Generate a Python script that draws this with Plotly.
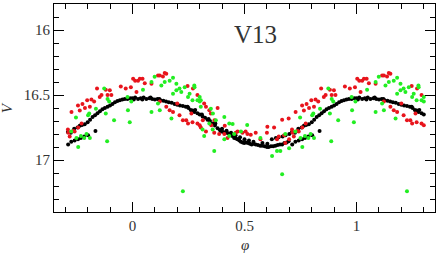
import plotly.graph_objects as go

# ---- data: phase (0..1) and V magnitude ----
black_phase = [0.000, 0.006, 0.012, 0.025, 0.037, 0.044, 0.050, 0.062, 0.075, 0.081, 0.088, 0.100, 0.112, 0.120,
               0.125, 0.138, 0.150, 0.162, 0.175, 0.188, 0.200, 0.212, 0.225, 0.238, 0.246, 0.250, 0.260,
               0.268, 0.276, 0.280, 0.290, 0.300, 0.310, 0.313, 0.324, 0.335, 0.340, 0.346, 0.358, 0.368, 0.370,
               0.380, 0.390, 0.395, 0.400, 0.405, 0.415, 0.420, 0.426, 0.437, 0.440, 0.446, 0.454, 0.460, 0.462,
               0.469, 0.477, 0.480, 0.484, 0.492, 0.499, 0.500, 0.508, 0.516, 0.520, 0.524, 0.532, 0.540, 0.541,
               0.550, 0.560, 0.570, 0.579, 0.580, 0.590, 0.600, 0.602, 0.608, 0.618, 0.622, 0.628, 0.638, 0.640,
               0.648, 0.652, 0.658, 0.668, 0.670, 0.678, 0.683, 0.688, 0.697, 0.700, 0.712, 0.713, 0.725, 0.727,
               0.740, 0.742, 0.755, 0.757, 0.765, 0.770, 0.775, 0.785, 0.787, 0.800, 0.802, 0.811, 0.822, 0.833,
               0.835, 0.844, 0.855, 0.866, 0.877, 0.889, 0.900, 0.911, 0.922, 0.933, 0.944, 0.955, 0.966, 0.978,
               0.990]
black_mag = [16.525, 16.535, 16.520, 16.530, 16.525, 16.535, 16.520, 16.530, 16.525, 16.520, 16.530, 16.535, 16.530, 16.530,
             16.540, 16.545, 16.550, 16.555, 16.560, 16.570, 16.575, 16.580, 16.585, 16.590, 16.590, 16.600, 16.615,
             16.620, 16.630, 16.615, 16.640, 16.650, 16.650, 16.665, 16.675, 16.690, 16.685, 16.700, 16.720, 16.735, 16.720,
             16.755, 16.770, 16.780, 16.760, 16.785, 16.790, 16.775, 16.795, 16.800, 16.790, 16.815, 16.830, 16.810, 16.835,
             16.840, 16.850, 16.825, 16.860, 16.865, 16.870, 16.840, 16.865, 16.870, 16.850, 16.875, 16.880, 16.860, 16.875,
             16.880, 16.885, 16.890, 16.890, 16.870, 16.895, 16.900, 16.875, 16.900, 16.895, 16.840, 16.895, 16.890, 16.830,
             16.885, 16.825, 16.880, 16.880, 16.820, 16.870, 16.810, 16.865, 16.855, 16.800, 16.785, 16.880, 16.790, 16.860,
             16.760, 16.850, 16.750, 16.840, 16.737, 16.830, 16.730, 16.820, 16.725, 16.710, 16.810, 16.690, 16.670, 16.655,
             16.776, 16.640, 16.625, 16.610, 16.600, 16.590, 16.580, 16.570, 16.555, 16.546, 16.540, 16.535, 16.530, 16.530,
             16.525]

red_phase = [0.003, 0.012, 0.018, 0.025, 0.033, 0.045, 0.055, 0.085, 0.114, 0.122, 0.122, 0.136, 0.144, 0.151,
             0.151, 0.166, 0.181, 0.200, 0.210, 0.225, 0.240, 0.246, 0.248, 0.263, 0.268, 0.270, 0.290, 0.290,
             0.300, 0.305, 0.314, 0.320, 0.328, 0.328, 0.343, 0.350, 0.352, 0.365, 0.366, 0.380, 0.387, 0.410,
             0.412, 0.424, 0.461, 0.469, 0.491, 0.505, 0.513, 0.528, 0.550, 0.571, 0.600, 0.602, 0.632, 0.645,
             0.653, 0.668, 0.677, 0.682, 0.697, 0.699, 0.712, 0.714, 0.720, 0.728, 0.736, 0.742, 0.757, 0.758,
             0.765, 0.773, 0.777, 0.788, 0.798, 0.810, 0.817, 0.829, 0.842, 0.854, 0.862, 0.881, 0.889, 0.899,
             0.906, 0.948, 0.970, 0.993]
red_mag = [16.375, 16.390, 16.477, 16.390, 16.375, 16.375, 16.410, 16.413, 16.350, 16.350, 16.550, 16.357, 16.330, 16.337,
           16.590, 16.617, 16.630, 16.565, 16.656, 16.694, 16.694, 16.430, 16.720, 16.643, 16.710, 16.450, 16.500, 16.720,
           16.732, 16.750, 16.694, 16.566, 16.590, 16.780, 16.617, 16.643, 16.732, 16.790, 16.694, 16.600, 16.800, 16.800,
           16.737, 16.830, 16.790, 16.780, 16.790, 16.780, 16.800, 16.806, 16.790, 16.840, 16.790, 16.745, 16.750, 16.840,
           16.820, 16.690, 16.810, 16.870, 16.680, 16.840, 16.765, 16.790, 16.820, 16.630, 16.776, 16.780, 16.580, 16.750,
           16.620, 16.720, 16.570, 16.600, 16.540, 16.590, 16.535, 16.550, 16.450, 16.515, 16.500, 16.460, 16.500, 16.464,
           16.500, 16.434, 16.450, 16.440]

green_phase = [0.047, 0.085, 0.085, 0.099, 0.114, 0.122, 0.129, 0.144, 0.166, 0.174, 0.181, 0.181, 0.196, 0.196,
               0.210, 0.218, 0.225, 0.233, 0.248, 0.255, 0.268, 0.276, 0.277, 0.290, 0.300, 0.300, 0.305, 0.305,
               0.313, 0.320, 0.343, 0.350, 0.358, 0.359, 0.365, 0.372, 0.410, 0.410, 0.432, 0.432, 0.447, 0.454,
               0.484, 0.512, 0.571, 0.623, 0.645, 0.660, 0.668, 0.682, 0.699, 0.727, 0.748, 0.750, 0.758, 0.770,
               0.785, 0.795, 0.802, 0.807, 0.810, 0.837, 0.874, 0.881, 0.887, 0.889, 0.896, 0.918, 0.978, 0.980,
               0.988, 0.995]
green_mag = [16.460, 16.400, 16.630, 16.360, 16.566, 16.617, 16.426, 16.400, 16.390, 16.680, 16.367, 16.490, 16.413, 16.464,
             16.450, 16.477, 17.240, 16.440, 16.515, 16.490, 16.540, 16.426, 16.440, 16.540, 16.515, 16.550, 16.540, 16.590,
             16.765, 16.816, 16.720, 16.605, 16.765, 16.643, 16.930, 16.694, 16.670, 16.840, 16.720, 16.816, 16.724, 16.800,
             16.780, 16.730, 16.830, 16.970, 16.930, 16.930, 17.110, 16.800, 16.910, 16.780, 16.674, 16.830, 16.900, 16.816,
             16.830, 16.800, 16.656, 16.643, 16.830, 16.605, 16.450, 16.643, 16.855, 16.530, 16.550, 16.694, 16.515, 16.617,
             16.710, 16.550]

x_ticks = [0, 0.5, 1]
x_tick_labels = ["0", "0.5", "1"]
y_ticks = [16, 16.5, 17]
y_tick_labels = ["16", "16.5", "17"]
star_name = "V13"


def extend(phase, mag, lo=-0.3, hi=1.3):
    xs, ys = [], []
    for p, m in zip(phase, mag):
        for shift in (-1, 0, 1):
            q = p + shift
            if lo <= q <= hi:
                xs.append(q)
                ys.append(m)
    return xs, ys


fig = go.Figure()
for ph, mg, col in [(black_phase, black_mag, "#000000"),
                    (red_phase, red_mag, "#e8141c"),
                    (green_phase, green_mag, "#22ee22")]:
    xs, ys = extend(ph, mg)
    fig.add_trace(go.Scatter(x=xs, y=ys, mode="markers",
                             marker=dict(color=col, size=4, line=dict(width=0)),
                             showlegend=False, hoverinfo="skip"))

font_family = "Liberation Serif"
axis_common = dict(showline=True, linecolor="black", linewidth=1, mirror="allticks",
                   ticks="inside", ticklen=10, tickwidth=1, tickcolor="black",
                   showgrid=False, zeroline=False, automargin=False,
                   tickfont=dict(family=font_family, size=15, color="#333333"))

fig.update_xaxes(range=[-0.35, 1.35], tickvals=x_ticks, ticktext=x_tick_labels,
                 minor=dict(dtick=0.1, tick0=0, ticks="inside", ticklen=5, tickcolor="black", showgrid=False),
                 **axis_common)
fig.update_yaxes(range=[17.4, 15.8], tickvals=y_ticks, ticktext=y_tick_labels,
                 minor=dict(dtick=0.1, tick0=16, ticks="inside", ticklen=5, tickcolor="black", showgrid=False),
                 **axis_common)

fig.update_layout(
    width=438, height=254,
    margin=dict(l=54, r=3, t=4, b=42, pad=0),
    paper_bgcolor="white", plot_bgcolor="white",
    font=dict(family=font_family, color="#333333"),
    annotations=[
        dict(text=star_name, x=0.53, y=0.854, xref="paper", yref="paper",
             xanchor="center", yanchor="middle",
             showarrow=False, font=dict(family=font_family, size=25, color="#333333")),
        dict(text="<i>V</i>", x=-0.123, y=0.5, xref="paper", yref="paper", textangle=-90,
             xanchor="center", yanchor="middle",
             showarrow=False, font=dict(family=font_family, size=15, color="#333333")),
        dict(text="<i>φ</i>", x=0.501, y=-0.158, xref="paper", yref="paper",
             xanchor="center", yanchor="middle",
             showarrow=False, font=dict(family=font_family, size=15, color="#333333")),
    ],
)

fig.write_html("out.html", config={"displayModeBar": False},
               post_script="document.body.style.margin='0px';")
